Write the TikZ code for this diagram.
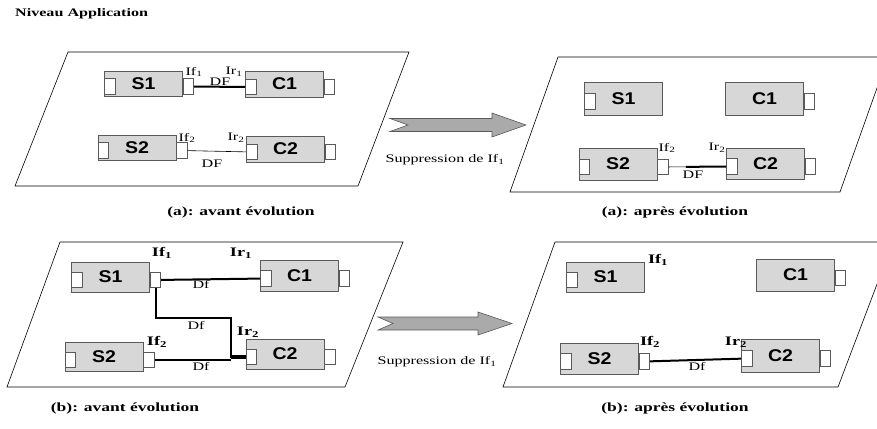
\documentclass[tikz,border=0pt]{standalone}
\usepackage{fontspec}
\setmainfont{Liberation Serif}
\newfontfamily\serl[FakeStretch=1.4]{Liberation Serif}
\newfontfamily\compfont[FakeStretch=1.15]{Liberation Sans}
\usepackage{tikz}
\usetikzlibrary{calc,
           positioning}
\definecolor{fond}{RGB}{215,215,215}
\definecolor{fleche}{RGB}{170,170,170}
\definecolor{bord}{RGB}{90,90,90}

\begin{document}
\begin{tikzpicture}[x=1pt,y=-1pt,
  comp/.style={draw=bord,fill=fond,line width=0.8pt,minimum width=78pt,inner sep=0,
               font=\compfont\bfseries\fontsize{17}{17}\selectfont},
  port/.style={draw=bord,fill=white,line width=0.8pt,minimum width=10.5pt,minimum height=15.5pt,inner sep=0,anchor=west},
  plan/.style={draw=black,line width=0.6pt},
  fin/.style={line width=0.6pt},
  epais/.style={line width=2pt},
  lab/.style={inner sep=0,font=\serl\fontsize{11.5}{11.5}\selectfont},
  labg/.style={inner sep=0,font=\serl\bfseries\fontsize{13}{13}\selectfont},
  legende/.style={inner sep=0,font=\serl\bfseries\fontsize{12.5}{12.5}\selectfont},
  fl/.style={draw=bord,fill=fleche,line width=0.6pt}]
\clip (0,0) rectangle (877,428);
\useasboundingbox (0,0) rectangle (877,428);

\node[inner sep=0,anchor=west,font=\serl\bfseries\fontsize{11.5}{11.5}\selectfont] (titre) at (15,14) {Niveau Application};

% les quatre plans
\draw[plan] (68,52) -- (409,52) -- (358,186) -- (15,186) -- cycle;
\draw[plan] (558,57) -- (888,57) -- (840,192) -- (510,192) -- cycle;
\draw[plan] (60,242) -- (403,242) -- (345,387) -- (7,387) -- cycle;
\draw[plan] (555,242) -- (893,242) -- (838,387) -- (503,387) -- cycle;

% composants
\foreach \nom/\txt/\x/\y/\h in {aav-s1/S1/143.5/83.5/25, aav-c1/C1/284.5/84/26,
                                aav-s2/S2/137/147.5/25, aav-c2/C2/285.5/149/26,
                                aap-s1/S1/623.5/98.5/33, aap-c1/C1/764.5/98.5/33,
                                aap-s2/S2/618/164/32, aap-c2/C2/765.5/163.5/31,
                                bav-s1/S1/110.5/277/30, bav-c1/C1/299.5/275.5/31,
                                bav-s2/S2/104/357/29, bav-c2/C2/285/354/30,
                                bap-s1/S1/605.5/277/30, bap-c1/C1/795.5/275/32,
                                bap-s2/S2/599.5/358.5/31, bap-c2/C2/780.5/355.5/33}
  \node[comp,minimum height=\h pt] (\nom) at (\x,\y) {\txt};

% ports gauches (dedans) et droits (dehors)
\foreach \nom in {aav-s1,aav-c1,aav-s2,aav-c2,aap-s1,aap-s2,aap-c2,
                  bav-s1,bav-c1,bav-s2,bav-c2,bap-s1,bap-s2,bap-c2}
  \node[port] (\nom-g) at ([yshift=-3pt]\nom.west) {};
\foreach \nom in {aav-s1,aav-c1,aav-s2,aav-c2,aap-c1,aap-s2,aap-c2,
                  bav-s1,bav-c1,bav-s2,bav-c2,bap-c1,bap-s2,bap-c2}
  \node[port] (\nom-d) at ([yshift=-3pt]\nom.east) {};

% (a) avant
\draw[epais] (aav-s1-d) -- (aav-c1-g);
\draw[fin] (aav-s2-d) -- (aav-c2-g);
\node[lab] (aav-if1) at (194,72) {If\textsubscript{1}};
\node[lab] (aav-ir1) at (234,72) {Ir\textsubscript{1}};
\node[lab] (aav-df1) at (220,82) {DF};
\node[lab] (aav-if2) at (187,138) {If\textsubscript{2}};
\node[lab] (aav-ir2) at (236,138) {Ir\textsubscript{2}};
\node[lab] (aav-df2) at (212,164) {DF};

% (a) apres
\draw[fin] (aap-s2-d) -- (aap-c2-g);
\draw[epais] ($(aap-s2-d.east)!0.3!(aap-c2-g.west)$) -- (aap-c2-g);
\node[lab] (aap-if2) at (667,148) {If\textsubscript{2}};
\node[lab] (aap-ir2) at (717,148) {Ir\textsubscript{2}};
\node[lab] (aap-df) at (693,175) {DF};

% (b) avant
\coordinate (coude) at (231,318);
\draw[epais] (bav-s1-d) -- (bav-c1-g);
\draw[epais] (bav-s1-d.south) |- (coude) |- (bav-c2-g.west);
\draw[epais] (bav-s2-d) -- (bav-s2-d -| coude);
\draw[line width=3.5pt] (bav-c2-g.west -| coude) -- (bav-c2-g.west);
\node[labg] (bav-if1) at (162,253) {If\textsubscript{1}};
\node[labg] (bav-ir1) at (241,253) {Ir\textsubscript{1}};
\node[lab] (bav-df1) at (201,284) {Df};
\node[lab] (bav-df2) at (196,325) {Df};
\node[labg] (bav-ir2) at (248,332) {Ir\textsubscript{2}};
\node[labg] (bav-if2) at (157,342) {If\textsubscript{2}};
\node[lab] (bav-df3) at (201,366) {Df};

% (b) apres
\draw[epais] (bap-s2-d) -- (bap-c2-g);
\node[labg] (bap-if1) at (658,260) {If\textsubscript{1}};
\node[labg] (bap-if2) at (650,342) {If\textsubscript{2}};
\node[labg] (bap-ir2) at (736,342) {Ir\textsubscript{2}};
\node[lab] (bap-df) at (697,366) {Df};

% fleches d'evolution
\draw[fl] (390,118.5) -- (492,118.5) -- (492,113) -- (526,125) -- (492,137) -- (492,131.5)
          -- (390,131.5) -- (408,125) -- cycle;
\draw[fl] (378,317) -- (478,317) -- (478,312) -- (512,323.5) -- (478,335) -- (478,330)
          -- (378,330) -- (393,323.5) -- cycle;
\node[lab] (supp-a) at (445,160) {Suppression de If\textsubscript{1}};
\node[lab] (supp-b) at (437,362) {Suppression de If\textsubscript{1}};

% legendes
\node[legende] (leg-aav) at (241,212) {(a): avant évolution};
\node[legende] (leg-aap) at (675,212) {(a): après évolution};
\node[legende] (leg-bav) at (125,408) {(b): avant évolution};
\node[legende] (leg-bap) at (675,408) {(b): après évolution};
\end{tikzpicture}
\end{document}
